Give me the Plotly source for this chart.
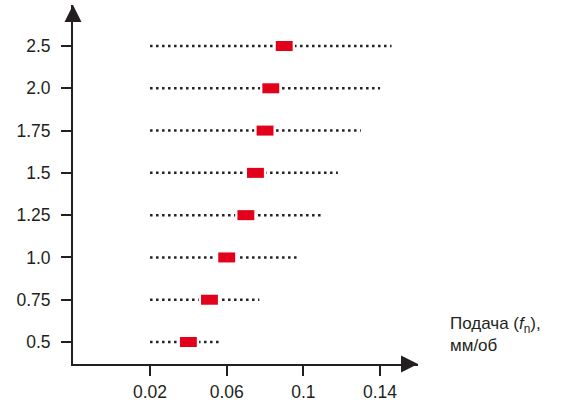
import plotly.graph_objects as go

# Диаметр / категории по оси Y (снизу вверх)
categories = ["0.5", "0.75", "1.0", "1.25", "1.5", "1.75", "2.0", "2.5"]
# диапазон подачи, мм/об
feed_min = [0.02, 0.02, 0.02, 0.02, 0.02, 0.02, 0.02, 0.02]
feed_max = [0.056, 0.077, 0.097, 0.11, 0.118, 0.13, 0.14, 0.146]
# рекомендуемая подача (красные метки)
feed_rec = [0.04, 0.051, 0.06, 0.07, 0.075, 0.08, 0.083, 0.09]

x_ticks = [0.02, 0.06, 0.1, 0.14]
x_labels = ["0.02", "0.06", "0.1", "0.14"]

MARK_LEN = 0.0088  # длина красной метки в единицах оси X
FONT = "Liberation Sans, Arial, sans-serif"
INK = "#231f20"

# dotted ranges as one trace separated by None
xs, ys = [], []
for c, lo, hi in zip(categories, feed_min, feed_max):
    xs += [lo, hi, None]
    ys += [c, c, None]

# white gaps + red marks, drawn as thick segments on top of the dots
mx, my = [], []
for c, v in zip(categories, feed_rec):
    mx += [v - MARK_LEN / 2, v + MARK_LEN / 2, None]
    my += [c, c, None]
gx, gy = [], []
for c, v in zip(categories, feed_rec):
    gx += [v - MARK_LEN / 2 - 0.0012, v + MARK_LEN / 2 + 0.0012, None]
    gy += [c, c, None]

fig = go.Figure()
fig.add_trace(go.Scatter(
    x=xs, y=ys, mode="lines",
    line=dict(color=INK, width=2.5, dash="2.5px,3.5px"),
    hoverinfo="skip", showlegend=False,
))
fig.add_trace(go.Scatter(
    x=gx, y=gy, mode="lines",
    line=dict(color="white", width=10),
    hoverinfo="skip", showlegend=False,
))
fig.add_trace(go.Scatter(
    x=mx, y=my, mode="lines",
    line=dict(color="#e2001a", width=10),
    showlegend=False,
))

fig.update_layout(
    width=570, height=407,
    margin=dict(l=73, r=152, t=5, b=38),
    paper_bgcolor="white", plot_bgcolor="white",
    font=dict(family=FONT, size=17.5, color=INK),
    showlegend=False,
    xaxis=dict(
        range=[-0.0202, 0.1598], tickvals=x_ticks, ticktext=x_labels,
        showgrid=False, zeroline=False,
        showline=True, linecolor=INK, linewidth=2,
        ticks="outside", ticklen=10, tickwidth=2, tickcolor=INK,
        ticklabelstandoff=1,
    ),
    yaxis=dict(
        type="category", categoryorder="array", categoryarray=categories,
        range=[-0.52, 7.97],
        showgrid=False, zeroline=False,
        showline=True, linecolor=INK, linewidth=2,
        ticks="outside", ticklen=10, tickwidth=2, tickcolor=INK,
        ticklabelstandoff=7,
    ),
    annotations=[
        # arrowheads on axes
        dict(x=1, y=0, xref="paper", yref="paper", ax=-16, ay=0,
             showarrow=True, arrowhead=2, arrowsize=1.7, arrowwidth=2,
             arrowcolor=INK, text=""),
        dict(x=0, y=1, xref="paper", yref="paper", ax=0, ay=16,
             showarrow=True, arrowhead=2, arrowsize=1.7, arrowwidth=2,
             arrowcolor=INK, text=""),
        dict(x=1.087, y=0.083, xref="paper", yref="paper",
             xanchor="left", yanchor="middle", align="left", showarrow=False,
             text="Подача (<i>f</i><sub>n</sub>),<br>мм/об",
             font=dict(family=FONT, size=17, color=INK)),
    ],
)

fig.write_html("out.html", config={"displayModeBar": False},
               post_script="document.body.style.margin='0';")
